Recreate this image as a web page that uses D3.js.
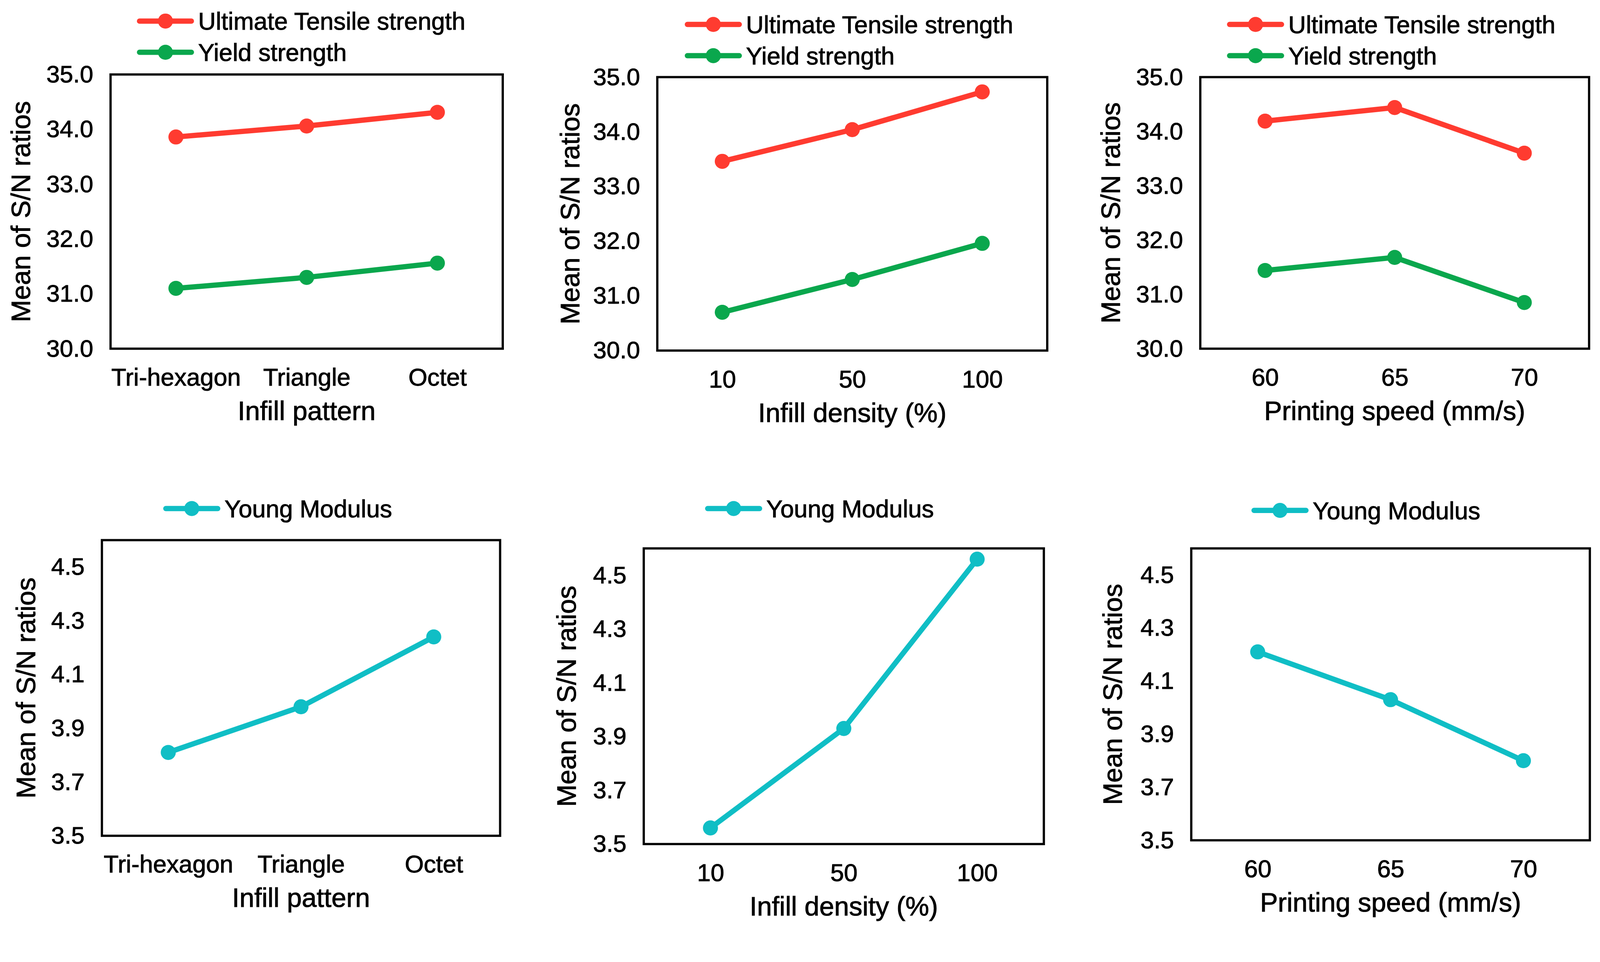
<!DOCTYPE html>
<html>
<head>
<meta charset="utf-8">
<script src="https://cdn.jsdelivr.net/npm/d3@7"></script>
<style>
  html, body { margin: 0; padding: 0; overflow: hidden; background: #fff; }
  svg { display: block; }
  svg text { font-family: "Liberation Sans", Arial, sans-serif; fill: #000; stroke: #000; stroke-width: 1.2px; }
</style>
</head>
<body>
<script>
// categories
var patterns = ["Tri-hexagon", "Triangle", "Octet"];
var densities = ["10", "50", "100"];
var speeds = ["60", "65", "70"];

// S/N ratio means
var utsPattern = [33.86, 34.06, 34.31];
var ysPattern = [31.10, 31.30, 31.56];
var utsDensity = [33.46, 34.04, 34.73];
var ysDensity = [30.70, 31.30, 31.96];
var utsSpeed = [34.19, 34.44, 33.60];
var ysSpeed = [31.44, 31.68, 30.85];
var ymPattern = [3.81, 3.98, 4.24];
var ymDensity = [3.56, 3.93, 4.56];
var ymSpeed = [4.21, 4.03, 3.80];

// tick labels
var strengthTicks = [30, 31, 32, 33, 34, 35];
var modulusTicks = [3.5, 3.7, 3.9, 4.1, 4.3, 4.5];

var red = "#ff3b30", green = "#0aa74d", cyan = "#10bec5";

var w = 4255, h = 2462;
//fit the drawing to the window width, keep its shape
var svg = d3.select("body").append("svg")
  .attr("viewBox", "0 0 " + w + " " + h)
  .attr("preserveAspectRatio", "xMinYMin meet")
  .style("width", "100vw")
  .style("height", "calc(100vw * " + h + " / " + w + ")");

//panel layout (box edges in px)
var panels = [
  {x0: 294, x1: 1337, y0: 198, y1: 927, cats: patterns, title: "Infill pattern",
   domain: [30, 35], ticks: strengthTicks, legX: 371, legY: 56, yt: 240,
   series: [{name: "Ultimate Tensile strength", values: utsPattern, color: red},
            {name: "Yield strength", values: ysPattern, color: green}]},
  {x0: 1748, x1: 2785, y0: 205, y1: 932, cats: densities, title: "Infill density (%)",
   domain: [30, 35], ticks: strengthTicks, legX: 1828, legY: 65, yt: 233,
   series: [{name: "Ultimate Tensile strength", values: utsDensity, color: red},
            {name: "Yield strength", values: ysDensity, color: green}]},
  {x0: 3192, x1: 4226, y0: 205, y1: 927, cats: speeds, title: "Printing speed (mm/s)",
   domain: [30, 35], ticks: strengthTicks, legX: 3270, legY: 65, yt: 239,
   series: [{name: "Ultimate Tensile strength", values: utsSpeed, color: red},
            {name: "Yield strength", values: ysSpeed, color: green}]},
  {x0: 271, x1: 1330, y0: 1436, y1: 2222, cats: patterns, title: "Infill pattern",
   domain: [3.5, 4.6], ticks: modulusTicks, legX: 441, legY: 1352, yt: 203,
   series: [{name: "Young Modulus", values: ymPattern, color: cyan}]},
  {x0: 1712, x1: 2776, y0: 1458, y1: 2244, cats: densities, title: "Infill density (%)",
   domain: [3.5, 4.6], ticks: modulusTicks, legX: 1882, legY: 1352, yt: 206,
   series: [{name: "Young Modulus", values: ymDensity, color: cyan}]},
  {x0: 3168, x1: 4228, y0: 1458, y1: 2234, cats: speeds, title: "Printing speed (mm/s)",
   domain: [3.5, 4.6], ticks: modulusTicks, legX: 3335, legY: 1357, yt: 210,
   series: [{name: "Young Modulus", values: ymSpeed, color: cyan}]}
];

panels.forEach(function(p) {
  var g = svg.append("g");

  //category scale, points in middle of each band
  var x = d3.scalePoint()
    .domain(p.cats)
    .range([p.x0, p.x1])
    .padding(0.5);
  var y = d3.scaleLinear()
    .domain(p.domain)
    .range([p.y1, p.y0]);

  //y axis labels
  var yAxis = d3.axisLeft(y)
    .tickValues(p.ticks)
    .tickSize(0)
    .tickPadding(46)
    .tickFormat(d3.format(".1f"));
  g.append("g")
    .attr("transform", "translate(" + p.x0 + ",0)")
    .call(yAxis)
    .call(function(a) { a.select(".domain").remove(); })
    .selectAll("text")
    .attr("font-size", 64)
    .attr("font-family", "Liberation Sans, Arial, sans-serif");

  //x axis labels
  var xAxis = d3.axisBottom(x)
    .tickSize(0)
    .tickPadding(52);
  g.append("g")
    .attr("transform", "translate(0," + p.y1 + ")")
    .call(xAxis)
    .call(function(a) { a.select(".domain").remove(); })
    .selectAll("text")
    .attr("font-size", 65)
    .attr("font-family", "Liberation Sans, Arial, sans-serif");

  //plot frame
  g.append("rect")
    .attr("x", p.x0)
    .attr("y", p.y0)
    .attr("width", p.x1 - p.x0)
    .attr("height", p.y1 - p.y0)
    .attr("fill", "none")
    .attr("stroke", "#000")
    .attr("stroke-width", 6);

  var line = d3.line()
    .x(function(d, i) { return x(p.cats[i]); })
    .y(function(d) { return y(d); });

  p.series.forEach(function(s, k) {
    g.append("path")
      .datum(s.values)
      .attr("d", line)
      .attr("fill", "none")
      .attr("stroke", s.color)
      .attr("stroke-width", 14)
      .attr("stroke-linejoin", "round");
    g.selectAll(".pt" + k)
      .data(s.values)
      .enter()
      .append("circle")
      .attr("cx", function(d, i) { return x(p.cats[i]); })
      .attr("cy", function(d) { return y(d); })
      .attr("r", 20)
      .attr("fill", s.color);

    //legend entry
    var ly = p.legY + k * 83;
    g.append("line")
      .attr("x1", p.legX)
      .attr("x2", p.legX + 138)
      .attr("y1", ly)
      .attr("y2", ly)
      .attr("stroke", s.color)
      .attr("stroke-width", 14)
      .attr("stroke-linecap", "round");
    g.append("circle")
      .attr("cx", p.legX + 69)
      .attr("cy", ly)
      .attr("r", 20)
      .attr("fill", s.color);
    g.append("text")
      .attr("x", p.legX + 156)
      .attr("y", ly)
      .attr("dy", "0.36em")
      .attr("font-size", 65)
      .text(s.name);
  });

  //axis titles
  g.append("text")
    .attr("x", (p.x0 + p.x1) / 2)
    .attr("y", p.y1 + 164)
    .attr("dy", "0.36em")
    .attr("text-anchor", "middle")
    .attr("font-size", 71)
    .text(p.title);
  g.append("text")
    .attr("transform", "translate(" + (p.x0 - p.yt) + "," + ((p.y0 + p.y1) / 2) + ") rotate(-90)")
    .attr("dy", "0.36em")
    .attr("text-anchor", "middle")
    .attr("font-size", 71)
    .text("Mean of S/N ratios");
});
</script>
</body>
</html>
